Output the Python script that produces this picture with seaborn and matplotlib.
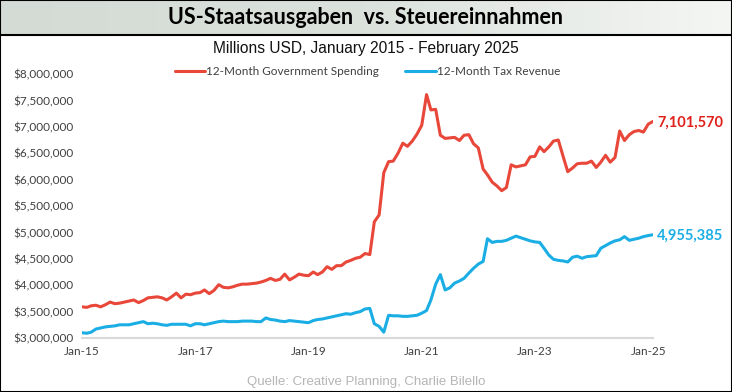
import matplotlib
matplotlib.use("Agg")
import matplotlib.pyplot as plt
import matplotlib.dates as mdates
import numpy as np
import pandas as pd
import seaborn as sns
from matplotlib.patches import Rectangle
from matplotlib.ticker import FuncFormatter

# 12-month rolling totals, trillions USD (scaled to millions below), Jan 2015 .. Feb 2025
spending = [
    3.59, 3.58, 3.61, 3.62, 3.59, 3.63, 3.68, 3.65, 3.66, 3.68, 3.70, 3.72,
    3.67, 3.71, 3.76, 3.77, 3.78, 3.76, 3.72, 3.78, 3.85, 3.76, 3.83, 3.82,
    3.85, 3.86, 3.91, 3.84, 3.90, 4.01, 3.96, 3.95, 3.97, 4.00, 4.02, 4.02,
    4.03, 4.04, 4.06, 4.09, 4.13, 4.09, 4.11, 4.21, 4.10, 4.15, 4.21, 4.19,
    4.18, 4.25, 4.20, 4.25, 4.35, 4.30, 4.37, 4.37, 4.44, 4.47, 4.51, 4.53,
    4.60, 4.58, 5.20, 5.33, 6.13, 6.34, 6.35, 6.50, 6.69, 6.63, 6.73, 6.86,
    7.03, 7.61, 7.32, 7.33, 6.84, 6.78, 6.79, 6.80, 6.74, 6.84, 6.85, 6.68,
    6.60, 6.20, 6.09, 5.95, 5.88, 5.79, 5.85, 6.28, 6.24, 6.26, 6.28, 6.43,
    6.44, 6.62, 6.53, 6.62, 6.73, 6.75, 6.45, 6.15, 6.22, 6.30, 6.31, 6.31,
    6.35, 6.23, 6.33, 6.46, 6.33, 6.42, 6.92, 6.74, 6.85, 6.91, 6.93, 6.90,
    7.05, 7.10157,
]
revenue = [
    3.10, 3.09, 3.11, 3.17, 3.19, 3.21, 3.22, 3.23, 3.25, 3.25, 3.25, 3.27,
    3.29, 3.31, 3.27, 3.28, 3.27, 3.25, 3.24, 3.26, 3.26, 3.26, 3.26, 3.23,
    3.27, 3.27, 3.25, 3.27, 3.29, 3.31, 3.32, 3.31, 3.31, 3.31, 3.32, 3.32,
    3.32, 3.31, 3.31, 3.38, 3.35, 3.34, 3.32, 3.31, 3.33, 3.32, 3.31, 3.30,
    3.29, 3.33, 3.35, 3.36, 3.38, 3.40, 3.42, 3.44, 3.46, 3.45, 3.48, 3.50,
    3.55, 3.56, 3.27, 3.22, 3.11, 3.43, 3.42, 3.42, 3.41, 3.41, 3.42, 3.43,
    3.47, 3.52, 3.72, 4.02, 4.20, 3.91, 3.95, 4.04, 4.08, 4.13, 4.23, 4.32,
    4.40, 4.45, 4.88, 4.81, 4.83, 4.83, 4.85, 4.89, 4.93, 4.90, 4.87, 4.84,
    4.82, 4.81, 4.70, 4.57, 4.49, 4.47, 4.46, 4.44, 4.53, 4.55, 4.51, 4.54,
    4.55, 4.56, 4.70, 4.75, 4.80, 4.84, 4.86, 4.92, 4.85, 4.87, 4.89, 4.92,
    4.94, 4.955385,
]
series_names = ["12-Month Government Spending", "12-Month Tax Revenue"]
line_colors = ["#e8473a", "#1aaee5"]
label_colors = ["#e0211b", "#1aaee5"]
end_labels = ["7,101,570", "4,955,385"]
xtick_years = [2015, 2017, 2019, 2021, 2023, 2025]

months = pd.date_range("2015-01-01", periods=len(spending), freq="MS")
df = pd.DataFrame({
    "date": np.concatenate([months, months]),
    "value": np.concatenate([spending, revenue]) * 1e6,
    "series": [series_names[0]] * len(months) + [series_names[1]] * len(months),
})

sns.set_theme(style="white")
plt.rcParams["font.family"] = ["Lato", "DejaVu Sans"]

fig = plt.figure(figsize=(7.32, 3.92), dpi=100)
W, H = 732, 392

# title banner with a soft grey-green gradient
bax = fig.add_axes([0, 1 - 34 / H, 1, 34 / H])
grad = np.linspace(0, 1, 256)[None, :]
cmap = matplotlib.colors.LinearSegmentedColormap.from_list("banner", ["#d3dbd4", "#dbe2dc", "#f4f6f4"])
bax.imshow(grad, aspect="auto", cmap=cmap, extent=[0, 1, 0, 1])
bax.set_axis_off()
fig.add_artist(plt.Line2D([0, 1], [1 - 34.5 / H] * 2, color="black", lw=1.5))
fig.text(0.5, 1 - 18 / H, "US-Staatsausgaben  vs. Steuereinnahmen", ha="center", va="center",
         fontsize=15.5, fontweight="bold", color="black")
fig.text(366 / W, 1 - 49 / H, "Millions USD, January 2015 - February 2025", ha="center", va="center",
         fontsize=11.2, color="#111111", family=["Liberation Sans Narrow", "Liberation Sans"])

ax = fig.add_axes([82 / W, 1 - 338 / H, (653 - 82) / W, (338 - 74) / H])
sns.lineplot(data=df, x="date", y="value", hue="series", palette=line_colors, linewidth=2.2, ax=ax)

ax.set_ylim(3e6, 8e6)
ax.set_xlim(months[0], months[-1])
ax.set_yticks(np.arange(3e6, 8.01e6, 5e5))
ax.yaxis.set_major_formatter(FuncFormatter(lambda v, _: f"${v:,.0f}"))
ax.set_xticks([pd.Timestamp(f"{y}-01-01") for y in xtick_years])
ax.xaxis.set_major_formatter(mdates.DateFormatter("%b-%y"))
ax.tick_params(axis="both", length=0, labelsize=8.5, colors="#404040", pad=6)
ax.set_xlabel("")
ax.set_ylabel("")
for side in ["left", "right", "top"]:
    ax.spines[side].set_visible(False)
ax.spines["bottom"].set_color("#d9d9d9")
ax.spines["bottom"].set_linewidth(1.5)
ax.patch.set_alpha(0)

for vals, col, txt in zip([spending, revenue], label_colors, end_labels):
    ax.annotate(txt, (months[-1], vals[-1] * 1e6), xytext=(3, -1), textcoords="offset points",
                va="center", ha="left", fontsize=10.5, fontweight="bold", color=col, annotation_clip=False)

ax.legend(loc="upper center", bbox_to_anchor=(0.5, 1.07), ncol=2, frameon=False, fontsize=8.5,
          handlelength=2.6, handletextpad=0.1, columnspacing=2.2, labelcolor="#404040")

fig.text(366 / W, 1 - 382 / H, "Quelle: Creative Planning, Charlie Bilello", ha="center", va="center",
         fontsize=9.5, color="#b5b5b5", family=["Liberation Sans", "DejaVu Sans"])

fig.add_artist(Rectangle((0, 0), 1, 1, transform=fig.transFigure, fill=False, edgecolor="black", lw=1.5))

fig.savefig("out.png", dpi=100)
